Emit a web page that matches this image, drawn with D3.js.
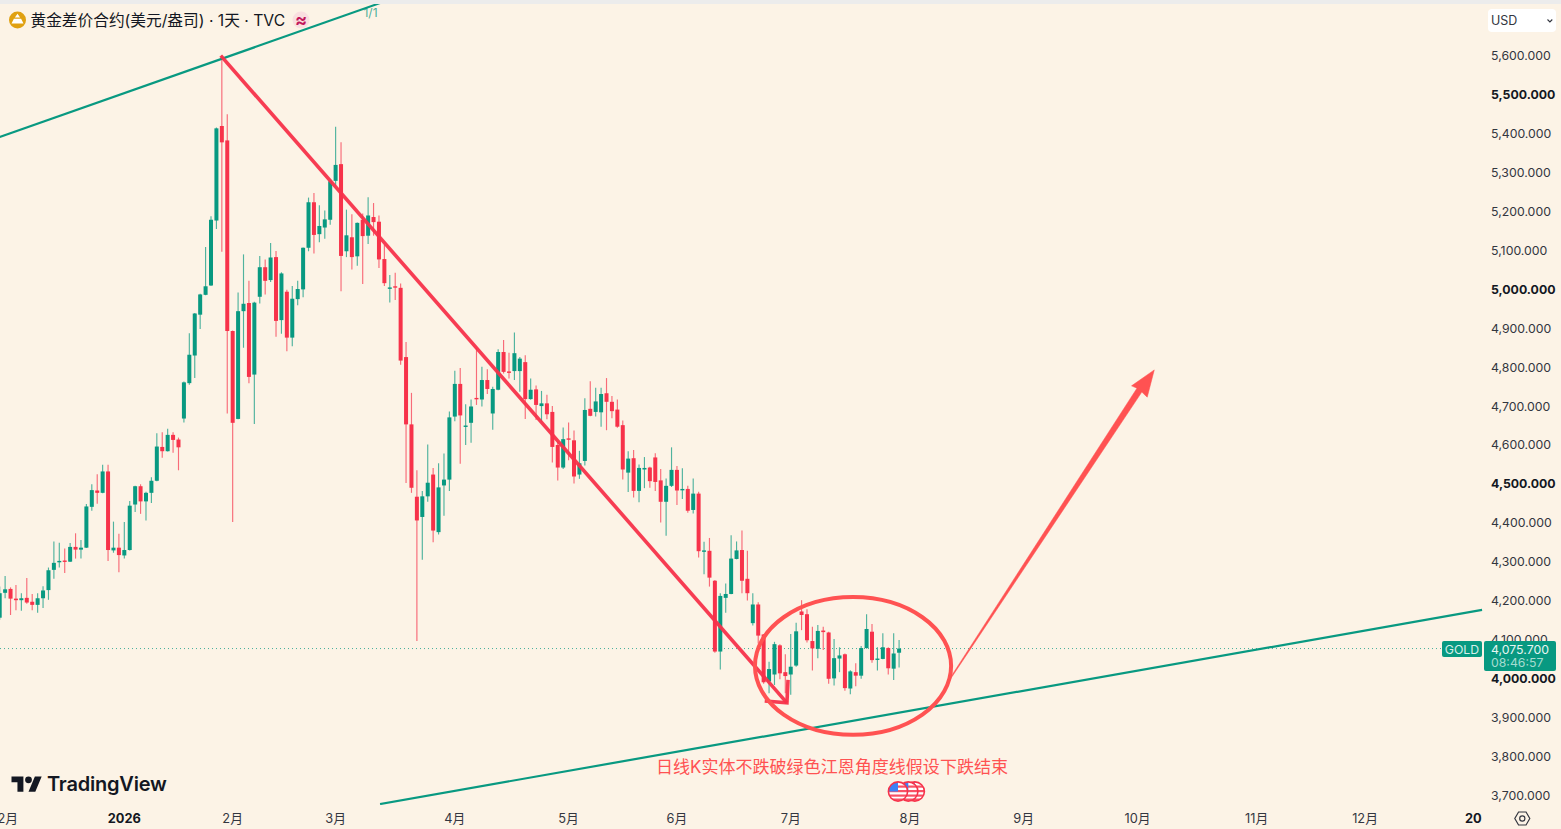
<!DOCTYPE html>
<html><head><meta charset="utf-8">
<style>
html,body{margin:0;padding:0;background:#fcf3e6;overflow:hidden}
svg{display:block}
text{font-family:Inter,"Noto Sans CJK SC",sans-serif}
</style>
<script src="https://cdn.jsdelivr.net/npm/d3@7/dist/d3.min.js"></script>
</head><body><svg id="c" width="1561" height="829"></svg>
<script>
const opens=[4155,4219,4229,4204,4200,4206,4196,4188,4205,4226,4278,4298,4302,4299,4337,4330,4335,4440,4482,4476,4531,4328,4335,4315,4329,4446,4493,4454,4476,4507,4594,4583,4625,4613,4667,4758,4829,4934,4985,5009,5176,5419,5382,4892,4666,4943,4964,4780,4980,5056,5023,5082,4920,4993,4875,4974,4999,5106,5223,5141,5158,5178,5278,5321,5097,5133,5084,5178,5137,5185,5173,5077,5001,5007,5003,4825,4652,4466,4414,4467,4523,4375,4495,4510,4672,4756,4646,4656,4720,4716,4766,4680,4741,4838,4788,4789,4789,4812,4717,4742,4699,4706,4684,4599,4541,4616,4611,4523,4558,4692,4684,4683,4732,4710,4690,4650,4528,4565,4481,4536,4541,4567,4508,4453,4494,4535,4483,4486,4432,4474,4326,4327,4250,4068,4206,4216,4306,4329,4255,4141,4189,4112,3991,4009,4084,4015,4009,4032,4171,4164,4095,4075,4122,4117,3999,4050,4061,3973,4015,4006,4077,4119,4047,4049,4077,4024,4065];
const highs=[4235,4262,4233,4239,4218,4257,4216,4218,4236,4284,4351,4348,4333,4347,4372,4355,4447,4498,4524,4548,4548,4402,4371,4401,4455,4494,4498,4479,4516,4629,4632,4641,4632,4618,4762,4886,4938,4988,5108,5187,5415,5600,5449,4893,4991,5089,5021,4967,5085,5076,5118,5098,5043,4998,5008,5021,5107,5235,5247,5215,5202,5278,5417,5377,5204,5192,5171,5194,5236,5221,5189,5114,5036,5042,5014,4864,4733,4534,4481,4600,4540,4552,4577,4685,4790,4797,4704,4716,4848,4800,4794,4749,4845,4869,4836,4888,4825,4830,4770,4752,4738,4728,4699,4608,4644,4657,4636,4584,4719,4763,4746,4746,4771,4725,4716,4662,4583,4586,4549,4568,4543,4578,4537,4513,4593,4545,4539,4494,4513,4479,4350,4360,4252,4218,4243,4367,4351,4379,4327,4218,4195,4113,4042,4093,4087,4061,4113,4142,4200,4177,4132,4136,4132,4119,4100,4079,4063,4020,4038,4082,4164,4139,4079,4115,4079,4115,4098];
const lows=[4150,4205,4162,4174,4173,4191,4174,4168,4180,4201,4255,4284,4270,4298,4307,4307,4334,4430,4448,4475,4301,4322,4272,4307,4328,4427,4422,4405,4450,4506,4566,4582,4579,4534,4657,4754,4771,4897,4984,5008,5154,5096,4680,4401,4665,4849,4758,4653,4963,4986,5018,4877,4885,4840,4853,4958,4979,5097,5091,5120,5129,5165,5266,4994,5082,5050,5060,5013,5116,5137,5054,5008,4965,4972,4805,4501,4476,4095,4304,4453,4349,4369,4417,4481,4660,4551,4599,4605,4702,4698,4730,4638,4740,4783,4770,4766,4736,4666,4715,4663,4659,4665,4554,4508,4537,4560,4500,4512,4546,4673,4672,4646,4637,4668,4643,4510,4478,4464,4452,4488,4489,4481,4400,4366,4491,4445,4460,4425,4423,4310,4267,4235,4065,4022,4168,4215,4305,4218,4199,4135,4089,3985,3961,3982,3997,3961,3957,4029,4123,4091,4019,4051,4072,3985,3981,4015,3967,3958,3979,3998,4075,4039,4019,4048,4009,3995,4027];
const closes=[4218,4228,4204,4200,4205,4194,4188,4205,4225,4277,4296,4301,4299,4337,4330,4335,4441,4483,4476,4531,4329,4335,4316,4329,4443,4493,4454,4476,4507,4595,4583,4625,4612,4593,4760,4831,4937,4986,5007,5178,5413,5377,4892,4656,4943,4962,4774,4965,5056,5021,5081,4918,5040,4875,4975,5000,5106,5223,5139,5162,5179,5277,5319,5085,5138,5082,5170,5136,5189,5172,5076,5015,5004,5004,4816,4652,4489,4405,4467,4502,4379,4490,4510,4670,4756,4675,4649,4698,4717,4766,4743,4743,4838,4787,4785,4835,4821,4717,4741,4702,4706,4678,4594,4541,4614,4614,4518,4552,4689,4674,4711,4730,4710,4686,4646,4536,4564,4481,4540,4540,4506,4504,4453,4494,4535,4482,4486,4430,4474,4326,4328,4258,4068,4211,4216,4307,4328,4250,4218,4189,4109,3989,4023,4087,4012,4005,4029,4120,4162,4097,4076,4121,4118,3998,4051,4058,3974,4017,4006,4077,4126,4046,4050,4079,4025,4063,4075.7];
const priceTicks=[5600,5500,5400,5300,5200,5100,5000,4900,4800,4700,4600,4500,4400,4300,4200,4100,4000,3900,3800,3700];
const boldPrices=[5500,5000,4500,4000];
const timeIdx=[1,23,43,62,84,105,125,146,168,189,210,232,252,272];
const timeLabels=["12月","2026","2月","3月","4月","5月","6月","7月","8月","9月","10月","11月","12月","20"];
const boldTimes=["2026","20"];
const lastPrice=4075.7, countdown="08:46:57", symbol="GOLD";
const titleText="黄金差价合约(美元/盎司) · 1天 · TVC";
const noteText="日线K实体不跌破绿色江恩角度线假设下跌结束";
// annotation anchors in (bar index, price)
const upperGann=[[0,5391],[70.2,5735]];
const lowerGann=[[70.2,3676],[273.6,4175]];
const downLine=[[40.8,5600],[145.3,3936]];
const downHead=[[141.2,3941],[145.3,3936],[145.5,3995]];
const ellipseCenter=[157.5,4031], ellipseRadii=[18.1,177];
const upArrow=[[174.9,3985],[174.95,3990],[209.9,4745],[208.9,4751],[213.1,4792],[211.8,4722],[210.8,4735]];
const flagIdx=[168.9,167.7,165.8];

const GREEN="#089981",RED="#f7324a",NOTE="#ff5252",INK="#131722";
const x=d3.scaleLinear().domain([0,272]).range([-0.3,1473.4]);
const y=d3.scaleLinear().domain([4000,5600]).range([678,55.6]);
const svg=d3.select("#c");
svg.append("rect").attr("width",1561).attr("height",829).attr("fill","#fcf3e6");
svg.append("rect").attr("width",1561).attr("height",4).attr("fill","#ececec");
svg.append("defs").append("clipPath").attr("id","pane").append("rect").attr("x",0).attr("y",4).attr("width",1484).attr("height",801);
const line=d3.line().x(d=>x(d[0])).y(d=>y(d[1]));

// last price dotted line
svg.append("line").attr("x1",0).attr("x2",1442).attr("y1",y(lastPrice)).attr("y2",y(lastPrice))
 .attr("stroke",GREEN).attr("stroke-width",1).attr("stroke-dasharray","1 3").attr("opacity",.75);

// candles
const idx=d3.range(opens.length);
const g=svg.append("g");
const colr=i=>closes[i]>=opens[i]?GREEN:RED;
g.selectAll("line.w").data(idx).join("line").attr("class","w")
 .attr("x1",i=>x(i)).attr("x2",i=>x(i)).attr("y1",i=>y(highs[i])).attr("y2",i=>y(lows[i]))
 .attr("stroke",colr).attr("stroke-width",1.15).attr("opacity",.7);
g.selectAll("rect").data(idx).join("rect")
 .attr("x",i=>x(i)-2).attr("width",4)
 .attr("y",i=>Math.min(y(opens[i]),y(closes[i])))
 .attr("height",i=>Math.max(1.4,Math.abs(y(opens[i])-y(closes[i]))))
 .attr("fill",colr);

// annotations
const ann=svg.append("g").attr("clip-path","url(#pane)").attr("fill","none");
ann.append("path").attr("d",line(upperGann)).attr("stroke",GREEN).attr("stroke-width",2.2);
ann.append("path").attr("d",line(lowerGann)).attr("stroke",GREEN).attr("stroke-width",2.2);
ann.append("path").attr("d",line(downLine)).attr("stroke",RED).attr("stroke-width",3.6).attr("opacity",.95);
ann.append("path").attr("d",line(downHead)).attr("stroke",RED).attr("stroke-width",3.6).attr("opacity",.95);
ann.append("ellipse").attr("cx",x(ellipseCenter[0])).attr("cy",y(ellipseCenter[1]))
 .attr("rx",x(ellipseRadii[0])-x(0)).attr("ry",y(0)-y(ellipseRadii[1])).attr("stroke",NOTE).attr("stroke-width",4);
ann.append("path").attr("d",line(upArrow)+"Z").attr("fill",NOTE).attr("stroke",NOTE).attr("stroke-width",.5);

// note
svg.append("text").attr("x",832).attr("y",773).attr("text-anchor","middle").attr("font-size",17.05).attr("fill",NOTE).text(noteText);

// flags: leftmost drawn last
const fl=svg.append("g");
const flagOrder=[...flagIdx].sort((a,b)=>b-a);
flagOrder.forEach((v,k)=>{
  const cx=x(v), cy=791.5, id="fc"+k, r=9.6;
  fl.append("clipPath").attr("id",id).append("circle").attr("cx",cx).attr("cy",cy).attr("r",r);
  fl.append("circle").attr("cx",cx).attr("cy",cy).attr("r",r).attr("fill","#fff");
  const f=fl.append("g").attr("clip-path",`url(#${id})`);
  [-6,-1.5,3,7].forEach(d=>f.append("rect").attr("x",cx-r).attr("y",cy+d).attr("width",2*r).attr("height",2.2).attr("fill",RED).attr("opacity",.85));
  f.append("rect").attr("x",cx-r).attr("y",cy-r).attr("width",r).attr("height",r).attr("fill","#3b82f6");
  fl.append("circle").attr("cx",cx).attr("cy",cy).attr("r",r).attr("fill","none").attr("stroke",RED).attr("stroke-width",1.6);
});

// price axis
const pa=svg.append("g").attr("font-size",12.3).attr("fill",INK);
pa.selectAll("text").data(priceTicks).join("text").attr("x",1491).attr("y",d=>y(d)+4.8)
 .attr("font-weight",d=>boldPrices.includes(d)?700:400)
 .attr("fill",d=>boldPrices.includes(d)?INK:"#33363f")
 .text(d=>d3.format(",.3f")(d));

// time axis
const ta=svg.append("g").attr("font-size",12.8).attr("fill","#33363f").attr("text-anchor","middle");
ta.selectAll("text").data(timeLabels).join("text").attr("x",(d,i)=>x(timeIdx[i])).attr("y",823)
 .attr("font-weight",d=>boldTimes.includes(d)?700:400)
 .attr("fill",d=>boldTimes.includes(d)?INK:"#33363f").text(d=>d);

// gear
svg.append("path").attr("d",d3.line()(d3.range(6).map(k=>[1522.3+7.5*Math.cos(k*Math.PI/3),818.5+7.5*Math.sin(k*Math.PI/3)]))+"Z")
 .attr("fill","none").attr("stroke","#33363f").attr("stroke-width",1.2);
svg.append("circle").attr("cx",1522.3).attr("cy",818.5).attr("r",2.6).attr("fill","none").attr("stroke","#33363f").attr("stroke-width",1.2);

// price labels
svg.append("rect").attr("x",1442).attr("y",641).attr("width",40).attr("height",16).attr("rx",2).attr("fill",GREEN);
svg.append("text").attr("x",1462).attr("y",653.5).attr("text-anchor","middle").attr("font-size",12.3).attr("fill","#d6efe9").text(symbol);
svg.append("rect").attr("x",1484).attr("y",641).attr("width",72).attr("height",30).attr("rx",2).attr("fill",GREEN);
svg.append("text").attr("x",1491).attr("y",653.5).attr("font-size",12.3).attr("fill","#e6f5f2").text(d3.format(",.3f")(lastPrice));
svg.append("text").attr("x",1491).attr("y",667).attr("font-size",12.3).attr("fill","#a5dcd0").text(countdown);

// header
svg.append("circle").attr("cx",17.5).attr("cy",20).attr("r",8.5).attr("fill","#e0a112");
svg.append("path").attr("d","M17.5 13.8l2.6 3.6h-5.2zM11.5 23.5l2.4-4.8h7.2l2.4 4.8z").attr("fill","#fff");
svg.append("text").attr("x",30.5).attr("y",25.5).attr("font-size",15.7).attr("fill",INK).text(titleText);
svg.append("circle").attr("cx",301).attr("cy",20).attr("r",8.5).attr("fill","#f9dfe0");
svg.append("text").attr("x",301).attr("y",26).attr("text-anchor","middle").attr("font-size",18).attr("font-weight",700).attr("fill","#c2185b").text("≈");
svg.append("text").attr("x",370.5).attr("y",16.5).attr("text-anchor","middle").attr("font-size",12).attr("fill",GREEN).attr("opacity",.75).text("1/1");

// USD box
svg.append("rect").attr("x",1488).attr("y",9).attr("width",68).attr("height",23).attr("rx",4).attr("fill","#fff");
svg.append("text").attr("x",1491).attr("y",25).attr("font-size",12.5).attr("fill","#33363f").text("USD");
svg.append("path").attr("d","M1547.5 19.5l2.4 2.4 2.4-2.4").attr("fill","none").attr("stroke","#33363f").attr("stroke-width",1.1);

// logo
const lg=svg.append("g").attr("transform","translate(11.5,773) scale(.85)").attr("fill","#131722");
lg.append("path").attr("d","M14 22H7V11H0V4h14v18zM28 22h-8l7.5-18h8L28 22z");
lg.append("circle").attr("cx",20).attr("cy",8).attr("r",4);
svg.append("text").attr("x",47).attr("y",791).attr("font-size",20).attr("font-weight",600).attr("fill","#131722").attr("letter-spacing",-.2).text("TradingView");
</script></body></html>
